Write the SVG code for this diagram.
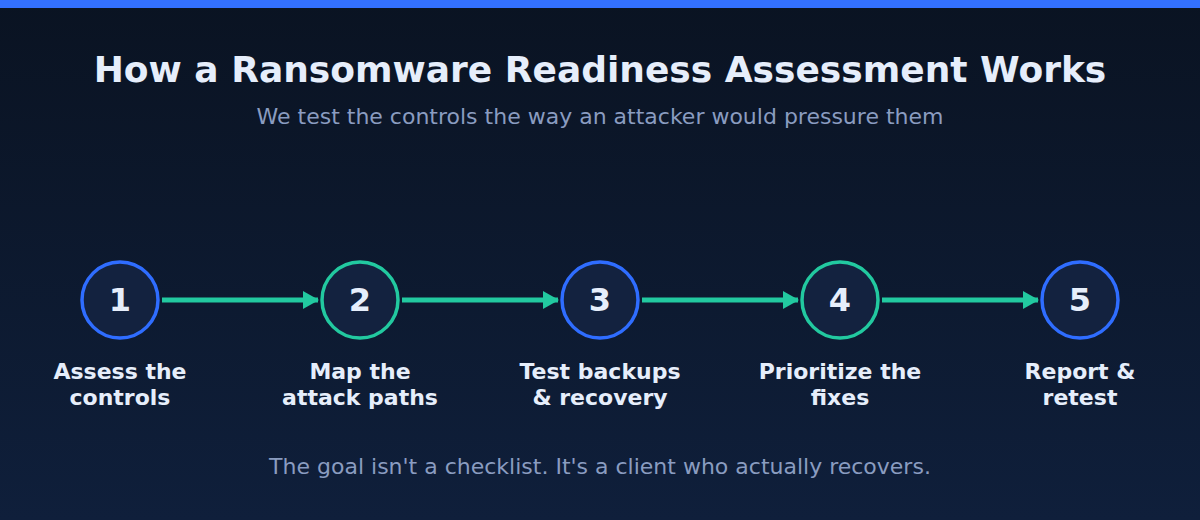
<svg xmlns="http://www.w3.org/2000/svg" width="1200" height="520" viewBox="0 0 1200 520">
<defs>
<linearGradient id="bg" x1="0" y1="0" x2="0" y2="1">
<stop offset="0" stop-color="#0a1322"/>
<stop offset="1" stop-color="#0f1f3b"/>
</linearGradient>
<marker id="ah" markerWidth="16" markerHeight="18" refX="15" refY="9" orient="auto" markerUnits="userSpaceOnUse">
<path d="M0,0 L16,9 L0,18 Z" fill="#22c9a0"/>
</marker>
<style>
text{font-family:"DejaVu Sans",sans-serif;text-anchor:middle}
.title{font-size:36px;font-weight:bold;fill:#e6eefb}
.sub{font-size:22px;fill:#8a9cc0}
.num{font-size:32px;font-weight:bold;fill:#e6eefb}
.lbl{font-size:22px;font-weight:bold;fill:#e6eefb}
.foot{font-size:22px;fill:#8a9cc0}
.cb{fill:#13223f;stroke:#2f6dff;stroke-width:3.5}
.cg{fill:#13223f;stroke:#22c9a0;stroke-width:3.5}
.conn{stroke:#22c9a0;stroke-width:5;fill:none}
</style>
</defs>
<rect width="1200" height="520" fill="url(#bg)"/>
<rect width="1200" height="8" fill="#3370ff"/>
<text class="title" x="600" y="82">How a Ransomware Readiness Assessment Works</text>
<text class="sub" x="600" y="124">We test the controls the way an attacker would pressure them</text>
<g id="connectors">
<line class="conn" x1="162" y1="300" x2="318" y2="300" marker-end="url(#ah)"/>
<line class="conn" x1="402" y1="300" x2="558" y2="300" marker-end="url(#ah)"/>
<line class="conn" x1="642" y1="300" x2="798" y2="300" marker-end="url(#ah)"/>
<line class="conn" x1="882" y1="300" x2="1038" y2="300" marker-end="url(#ah)"/>
</g>
<g id="step1"><circle class="cb" cx="120" cy="300" r="38"/><text class="num" x="120" y="311">1</text><text class="lbl" x="120" y="379">Assess the</text><text class="lbl" x="120" y="405">controls</text></g>
<g id="step2"><circle class="cg" cx="360" cy="300" r="38"/><text class="num" x="360" y="311">2</text><text class="lbl" x="360" y="379">Map the</text><text class="lbl" x="360" y="405">attack paths</text></g>
<g id="step3"><circle class="cb" cx="600" cy="300" r="38"/><text class="num" x="600" y="311">3</text><text class="lbl" x="600" y="379">Test backups</text><text class="lbl" x="600" y="405">&amp; recovery</text></g>
<g id="step4"><circle class="cg" cx="840" cy="300" r="38"/><text class="num" x="840" y="311">4</text><text class="lbl" x="840" y="379">Prioritize the</text><text class="lbl" x="840" y="405">fixes</text></g>
<g id="step5"><circle class="cb" cx="1080" cy="300" r="38"/><text class="num" x="1080" y="311">5</text><text class="lbl" x="1080" y="379">Report &amp;</text><text class="lbl" x="1080" y="405">retest</text></g>
<text class="foot" x="600" y="474">The goal isn't a checklist. It's a client who actually recovers.</text>
</svg>
